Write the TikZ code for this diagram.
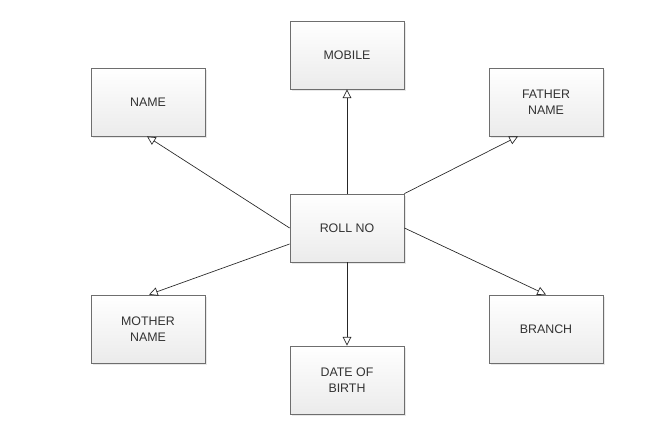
\documentclass[tikz,border=0pt]{standalone}
\usepackage{fontspec}
\setmainfont{Liberation Sans}
\usetikzlibrary{arrows.meta,shadows}
\definecolor{boxline}{HTML}{6E6E6E}
\definecolor{boxbottom}{HTML}{EBEBEB}
\definecolor{labeltext}{HTML}{333333}
\tikzset{
  entity/.style={draw=boxline, line width=0.6pt, top color=white, bottom color=boxbottom,
    minimum width=85.5pt, minimum height=51pt, inner sep=0pt, align=center,
    text=labeltext, font=\fontsize{9.3}{12}\selectfont,
    drop shadow={opacity=0.18, shadow xshift=1.2pt, shadow yshift=-1.2pt}},
  attr/.style={draw=black!85, line width=0.5pt, -{Triangle[open, length=6.5pt, width=6.5pt]}}
}
\begin{document}
\begin{tikzpicture}[x=0.75pt, y=-0.75pt]
  \useasboundingbox (0,0) rectangle (669,427);
  % boxes
  \node[entity] (mobile) at (347,55) {MOBILE};
  \node[entity] (name) at (148,102) {NAME};
  \node[entity] (father) at (546,102) {FATHER\\NAME};
  \node[entity] (roll) at (347,228) {ROLL NO};
  \node[entity] (mother) at (148,329) {MOTHER\\NAME};
  \node[entity] (dob) at (347,380) {DATE OF\\BIRTH};
  \node[entity] (branch) at (546,329) {BRANCH};
  % arrows
  \draw[attr] (roll.north) -- (mobile.south);
  \draw[attr] (roll.west) -- ([shift={(-1,0)}]name.south);
  \draw[attr] (roll.north east) -- ([shift={(-28,0)}]father.south);
  \draw[attr] ([shift={(0,16)}]roll.west) -- ([shift={(1,0)}]mother.north);
  \draw[attr] (roll.east) -- ([shift={(0,0)}]branch.north);
  \draw[attr] (roll.south) -- (dob.north);
\end{tikzpicture}
\end{document}
